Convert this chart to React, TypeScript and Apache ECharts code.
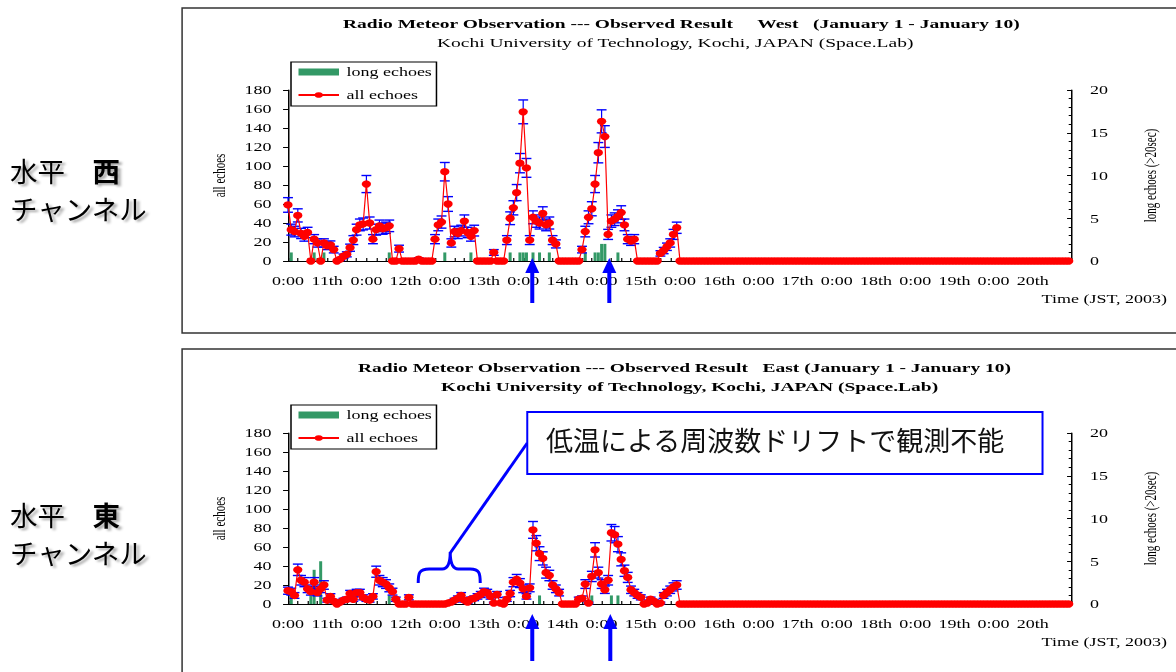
import React, { useEffect, useRef } from 'react';
import * as echarts from 'echarts';

// ---------- data ----------
const dayLabels = ['11th', '12th', '13th', '14th', '15th', '16th', '17th', '18th', '19th', '20th'];
const midnightLabel = '0:00';
const xAxisName = 'Time (JST, 2003)';
const leftAxisName = 'all echoes';
const rightAxisName = 'long echoes (>20sec)';

// hourly counts, "all echoes", West channel (hour 0 .. 239)
const westAllEchoes = [
  59, 33, 31, 48, 29, 26, 30, 0, 23, 19, 0, 19, 16, 17, 12, 0, 2, 5, 7, 14, 22, 33, 38, 39,
  81, 40, 23, 33, 37, 34, 35, 37, 0, 0, 13, 0, 0, 0, 0, 0, 2, 0, 0, 0, 0, 23, 38, 41,
  94, 60, 19, 31, 29, 32, 42, 30, 26, 32, 0, 0, 0, 0, 0, 9, 0, 0, 0, 22, 45, 56, 72, 103,
  157, 98, 22, 46, 42, 40, 50, 38, 40, 22, 18, 0, 0, 0, 0, 0, 0, 0, 12, 31, 46, 55, 81, 114,
  147, 131, 28, 42, 44, 47, 51, 38, 23, 21, 23, 0, 0, 0, 0, 0, 0, 0, 8, 11, 15, 19, 28, 35,
  0, 0, 0, 0, 0, 0, 0, 0, 0, 0, 0, 0, 0, 0, 0, 0, 0, 0, 0, 0, 0, 0, 0, 0,
  0, 0, 0, 0, 0, 0, 0, 0, 0, 0, 0, 0, 0, 0, 0, 0, 0, 0, 0, 0, 0, 0, 0, 0,
  0, 0, 0, 0, 0, 0, 0, 0, 0, 0, 0, 0, 0, 0, 0, 0, 0, 0, 0, 0, 0, 0, 0, 0,
  0, 0, 0, 0, 0, 0, 0, 0, 0, 0, 0, 0, 0, 0, 0, 0, 0, 0, 0, 0, 0, 0, 0, 0,
  0, 0, 0, 0, 0, 0, 0, 0, 0, 0, 0, 0, 0, 0, 0, 0, 0, 0, 0, 0, 0, 0, 0, 0,
];

// hourly counts, "all echoes", East channel (hour 0 .. 239)
const eastAllEchoes = [
  14, 13, 9, 36, 25, 23, 16, 13, 23, 12, 16, 20, 4, 8, 3, 0, 2, 4, 5, 11, 5, 12, 12, 7,
  5, 4, 8, 34, 25, 23, 21, 17, 13, 5, 0, 0, 0, 7, 0, 0, 0, 0, 0, 0, 0, 0, 0, 0,
  0, 1, 2, 4, 6, 9, 4, 2, 5, 6, 8, 10, 13, 12, 8, 1, 10, 1, 0, 5, 11, 23, 26, 22,
  16, 8, 17, 78, 64, 53, 48, 33, 30, 20, 16, 12, 0, 0, 0, 0, 0, 5, 6, 21, 1, 29, 57, 33,
  21, 15, 25, 75, 73, 63, 47, 35, 28, 15, 12, 9, 7, 0, 1, 5, 3, 0, 1, 9, 12, 15, 18, 20,
  0, 0, 0, 0, 0, 0, 0, 0, 0, 0, 0, 0, 0, 0, 0, 0, 0, 0, 0, 0, 0, 0, 0, 0,
  0, 0, 0, 0, 0, 0, 0, 0, 0, 0, 0, 0, 0, 0, 0, 0, 0, 0, 0, 0, 0, 0, 0, 0,
  0, 0, 0, 0, 0, 0, 0, 0, 0, 0, 0, 0, 0, 0, 0, 0, 0, 0, 0, 0, 0, 0, 0, 0,
  0, 0, 0, 0, 0, 0, 0, 0, 0, 0, 0, 0, 0, 0, 0, 0, 0, 0, 0, 0, 0, 0, 0, 0,
  0, 0, 0, 0, 0, 0, 0, 0, 0, 0, 0, 0, 0, 0, 0, 0, 0, 0, 0, 0, 0, 0, 0, 0,
];

// long echoes (>20 sec): hour index and count
const westLongHours = [1, 8, 11, 31, 48, 56, 68, 71, 72, 73, 75, 77, 80, 91, 94, 95, 96, 97, 101];
const westLongCounts = [1, 1, 1, 1, 1, 1, 1, 1, 1, 1, 1, 1, 1, 1, 1, 1, 2, 2, 1];
const eastLongHours = [1, 7, 8, 10, 31, 77, 93, 99, 101];
const eastLongCounts = [1, 1, 4, 5, 1, 1, 1, 1, 1];

const westTitle = 'Radio Meteor Observation --- Observed Result\u00a0\u00a0\u00a0\u00a0\u00a0West\u00a0\u00a0\u00a0(January 1 - January 10)';
const eastTitle = 'Radio Meteor Observation --- Observed Result\u00a0\u00a0\u00a0East (January 1 - January 10)';
const subTitle = 'Kochi University of Technology, Kochi, JAPAN (Space.Lab)';
const calloutText = '低温による周波数ドリフトで観測不能';

// ---------- layout ----------
const S = 1.5; // horizontal stretch of the original picture
const W = 1176;
const H = 672;
const FONT = '"Liberation Serif", "Times New Roman", serif';
const CJK = '"Noto Sans CJK JP", sans-serif';

const braceD =
  'M418,583 C418,573 419,569 429,569 L442,569 C447,569 450,565 450,552 C450,565 453,569 458,569 L470,569 C479,569 480,573 480,583';
try {
  echarts.graphic.registerShape('brace', echarts.graphic.extendPath(braceD, {}) as any);
} catch (e) {
  /* already registered */
}

const xLabel = (v: number) => {
  const h = Math.round(v);
  if (h >= 240) return '';
  return h % 24 === 0 ? midnightLabel : dayLabels[Math.floor(h / 24)];
};

const errRender = (params: any, api: any) => {
  const h = api.value(0);
  const v = api.value(1);
  const e = api.value(2);
  const c = api.coord([h, v]);
  const yTop = api.coord([h, v + e])[1];
  const yBot = api.coord([h, Math.max(0, v - e)])[1];
  const hw = 3.3;
  const stem = { stroke: '#0000ff', lineWidth: 0.8 };
  const cap = { stroke: '#0000ff', lineWidth: 1.4 };
  return {
    type: 'group',
    children: [
      { type: 'line', shape: { x1: c[0], y1: yTop, x2: c[0], y2: yBot }, style: stem },
      { type: 'line', shape: { x1: c[0] - hw, y1: yTop, x2: c[0] + hw, y2: yTop }, style: cap },
      { type: 'line', shape: { x1: c[0] - hw, y1: yBot, x2: c[0] + hw, y2: yBot }, style: cap },
    ],
  };
};

const makeX = (gridIndex: number) => ({
  type: 'value',
  gridIndex,
  min: 0,
  max: 240,
  interval: 12,
  axisLine: { show: true, onZero: false, lineStyle: { color: '#000', width: 1 } },
  axisTick: { show: true, inside: true, length: 3, lineStyle: { color: '#000', width: 0.8 } },
  minorTick: { show: true, splitNumber: 4, length: 3, lineStyle: { color: '#000', width: 0.8 } },
  splitLine: { show: false },
  minorSplitLine: { show: false },
  axisLabel: {
    formatter: xLabel,
    fontFamily: FONT,
    fontSize: 12,
    color: '#000',
    margin: 14,
    showMaxLabel: false,
    hideOverlap: false,
  },
});

const makeYLeft = (gridIndex: number) => ({
  type: 'value',
  gridIndex,
  position: 'left',
  min: 0,
  max: 180,
  interval: 20,
  axisLine: { show: true, lineStyle: { color: '#000', width: 1 } },
  axisTick: { show: true, inside: false, length: 3.3, lineStyle: { color: '#000', width: 1 } },
  splitLine: { show: false },
  axisLabel: { fontFamily: FONT, fontSize: 12, color: '#000', margin: 11 },
  name: leftAxisName,
  nameLocation: 'middle',
  nameRotate: 90,
  nameGap: 40,
  nameTextStyle: { fontFamily: FONT, fontSize: 11, color: '#000' },
});

const makeYRight = (gridIndex: number) => ({
  type: 'value',
  gridIndex,
  position: 'right',
  min: 0,
  max: 20,
  interval: 5,
  axisLine: { show: true, lineStyle: { color: '#000', width: 1 } },
  axisTick: { show: true, inside: true, length: 3.3, lineStyle: { color: '#000', width: 1 } },
  minorTick: { show: true, splitNumber: 5, length: 2.2, lineStyle: { color: '#000', width: 1 } },
  splitLine: { show: false },
  minorSplitLine: { show: false },
  axisLabel: { fontFamily: FONT, fontSize: 12, color: '#000', margin: 12 },
  name: rightAxisName,
  nameLocation: 'middle',
  nameRotate: 90,
  nameGap: 47,
  nameTextStyle: { fontFamily: FONT, fontSize: 11, color: '#000' },
});

const makeSeries = (
  xi: number,
  yLeft: number,
  yRight: number,
  all: number[],
  longHours: number[],
  longCounts: number[]
) => [
  {
    name: 'long echoes',
    type: 'bar',
    xAxisIndex: xi,
    yAxisIndex: yRight,
    barWidth: 2,
    itemStyle: { color: '#339966' },
    data: longHours.map((h, i) => [h, longCounts[i]]),
    z: 1,
    silent: true,
  },
  {
    name: 'errors',
    type: 'custom',
    xAxisIndex: xi,
    yAxisIndex: yLeft,
    renderItem: errRender,
    data: all.map((v, h) => [h, v, Math.sqrt(v)]).filter((d) => d[1] > 0),
    z: 2,
    silent: true,
  },
  {
    name: 'all echoes',
    type: 'line',
    xAxisIndex: xi,
    yAxisIndex: yLeft,
    symbol: 'circle',
    symbolSize: [6.2, 7.3],
    itemStyle: { color: '#ff0000' },
    lineStyle: { color: '#ff0000', width: 0.8 },
    data: all.map((v, h) => [h, v]),
    z: 3,
    silent: true,
  },
];

const makeLegend = (top: number) => ({
  data: [{ name: 'long echoes', icon: 'rect' }, { name: 'all echoes' }],
  orient: 'vertical',
  left: 291 / S,
  top,
  itemWidth: 27,
  itemHeight: 7,
  itemGap: 9,
  padding: [3, 3, 4, 4],
  borderColor: '#000',
  borderWidth: 1,
  backgroundColor: '#fff',
  selectedMode: false,
  textStyle: { fontFamily: FONT, fontSize: 12, color: '#000', lineHeight: 14 },
});

const titleStyle = (bold: boolean) => ({
  fontFamily: FONT,
  fontSize: 13,
  fontWeight: bold ? 'bold' : 'normal',
  color: '#000',
  lineHeight: 14,
});

const arrow = (x: number, tip: number, end: number) => [
  {
    type: 'polygon',
    z: 100,
    shape: { points: [[x - 7, tip + 15], [x, tip], [x + 7, tip + 15]] },
    style: { fill: '#0000ff' },
  },
  {
    type: 'rect',
    z: 100,
    shape: { x: x - 2, y: tip + 14, width: 4, height: end - tip - 14 },
    style: { fill: '#0000ff' },
  },
];

const sideText = (x: number, y: number, text: string, bold: boolean) => ({
  type: 'text',
  x,
  y,
  z: 100,
  style: {
    text,
    fontFamily: CJK,
    fontSize: 27.5,
    fontWeight: bold ? 'bold' : 'normal',
    fill: '#000',
    align: 'left',
    verticalAlign: 'middle',
    textShadowColor: 'rgba(0,0,0,0.35)',
    textShadowBlur: 2,
    textShadowOffsetX: 2,
    textShadowOffsetY: 2,
  },
});

const overlay = [
  { type: 'rect', z: 50, shape: { x: 182, y: 8, width: 1100, height: 325 }, style: { fill: 'none', stroke: '#333', lineWidth: 1.5 } },
  { type: 'rect', z: 50, shape: { x: 182, y: 349, width: 1100, height: 400 }, style: { fill: 'none', stroke: '#333', lineWidth: 1.5 } },
  sideText(10, 170.5, '水平', false),
  sideText(92.5, 170.5, '西', true),
  sideText(10, 208.5, 'チャンネル', false),
  sideText(10, 514, '水平', false),
  sideText(92.5, 514, '東', true),
  sideText(10, 552, 'チャンネル', false),
  ...arrow(532, 258, 303),
  ...arrow(609, 258, 303),
  ...arrow(532, 614, 661),
  ...arrow(610, 614, 661),
  { type: 'line', z: 100, shape: { x1: 450, y1: 553, x2: 527, y2: 443 }, style: { stroke: '#0000ff', lineWidth: 3 } },
  { type: 'brace', z: 100, style: { fill: 'none', stroke: '#0000ff', lineWidth: 3 } },
  { type: 'rect', z: 100, shape: { x: 527, y: 412, width: 515, height: 62 }, style: { fill: '#fff', stroke: '#0000ff', lineWidth: 2 } },
  {
    type: 'text',
    x: 546,
    y: 440,
    z: 101,
    style: { text: calloutText, fontFamily: CJK, fontSize: 27, fill: '#111', align: 'left', verticalAlign: 'middle' },
  },
];

const axisNameText = (y: number) => ({
  type: 'text',
  x: 1167 / S,
  y,
  z: 60,
  style: {
    text: xAxisName,
    fontFamily: FONT,
    fontSize: 12,
    fill: '#000',
    align: 'right',
    verticalAlign: 'middle',
  },
});

const option: any = {
  animation: false,
  backgroundColor: '#fff',
  title: [
    { text: westTitle, left: 343 / S, top: 17, padding: 0, textStyle: titleStyle(true) },
    { text: subTitle, left: 437 / S, top: 36, padding: 0, textStyle: titleStyle(false) },
    { text: eastTitle, left: 358 / S, top: 361, padding: 0, textStyle: titleStyle(true) },
    { text: subTitle, left: 441 / S, top: 380, padding: 0, textStyle: titleStyle(true) },
  ],
  legend: [makeLegend(62), makeLegend(405)],
  grid: [
    { left: 288 / S, top: 90, width: 784 / S, height: 171, containLabel: false, outerBoundsMode: 'none' },
    { left: 288 / S, top: 433, width: 784 / S, height: 171, containLabel: false, outerBoundsMode: 'none' },
  ],
  xAxis: [makeX(0), makeX(1)],
  yAxis: [makeYLeft(0), makeYRight(0), makeYLeft(1), makeYRight(1)],
  series: [
    ...makeSeries(0, 0, 1, westAllEchoes, westLongHours, westLongCounts),
    ...makeSeries(1, 2, 3, eastAllEchoes, eastLongHours, eastLongCounts),
  ],
  graphic: [
    axisNameText(299),
    axisNameText(642),
    { type: 'group', x: 0, y: 0, scaleX: 1 / S, scaleY: 1, children: overlay },
  ],
};

export default function App() {
  const ref = useRef<HTMLDivElement>(null);
  useEffect(() => {
    if (!ref.current) return;
    const chart = echarts.init(ref.current, null, { renderer: 'svg' });
    chart.setOption(option);
    return () => chart.dispose();
  }, []);
  return (
    <div style={{ position: 'fixed', left: 0, top: 0, width: W, height: H, overflow: 'hidden', background: '#fff' }}>
      <div
        ref={ref}
        style={{ width: W / S, height: H, transform: `scaleX(${S})`, transformOrigin: '0 0' }}
      />
    </div>
  );
}
